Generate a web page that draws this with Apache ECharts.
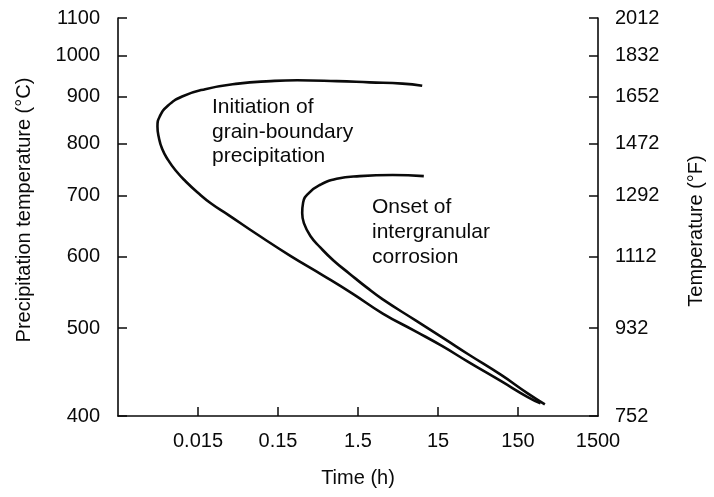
<!DOCTYPE html>
<html>
<head>
<meta charset="utf-8">
<script src="https://cdn.jsdelivr.net/npm/echarts@6/dist/echarts.min.js"></script>
<style>
html,body{margin:0;padding:0;background:#fff;}
#chart{width:714px;height:497px;}
</style>
</head>
<body>
<div id="chart"></div>
<script>
// ---- data ----
const timeTicks = [0.015, 0.15, 1.5, 15, 150, 1500];
const timeTickLabels = ['0.015', '0.15', '1.5', '15', '150', '1500'];
const tempTicksC = [400, 500, 600, 700, 800, 900, 1000, 1100];
const tempTicksF = ['752', '932', '1112', '1292', '1472', '1652', '1832', '2012'];

const initiationTime = [9.52, 5.40, 2.09, 0.812, 0.261, 0.122, 0.0475, 0.01845, 0.0095, 0.0062, 0.0050, 0.00467, 0.00483, 0.00534, 0.00633, 0.00794, 0.01055, 0.01483, 0.0221, 0.0358, 0.0838, 0.214, 0.546, 1.280, 3.06, 7.87, 16.8, 35.8, 92.3, 196, 287];
const initiationTemp = [926, 931, 934, 937, 939, 937, 931, 918, 901, 879, 857, 835, 814, 789, 767, 746, 726, 706, 686, 667, 634, 601, 572, 546, 519, 496, 478, 459, 437, 420, 413];

const onsetTime = [9.97, 4.06, 1.575, 0.812, 0.506, 0.364, 0.309, 0.301, 0.316, 0.381, 0.506, 0.740, 1.185, 1.905, 3.06, 7.87, 18.5, 35.8, 92.3, 196, 325];
const onsetTemp = [736, 738, 736, 731, 720, 705, 688, 670, 653, 632, 614, 594, 574, 555, 538, 510, 486, 468, 444, 424, 412];

const initiationLabel = 'Initiation of\ngrain-boundary\nprecipitation';
const onsetLabel = 'Onset of\nintergranular\ncorrosion';

// ---- chart ----
const FONT = '"Liberation Sans", Arial, Helvetica, sans-serif';
const INK = '#0a0a0a';
function idxOf(arr, v) {
  let best = 0, bd = Infinity;
  arr.forEach((a, i) => { const d = Math.abs(Math.log10(a) - Math.log10(v)); if (d < bd) { bd = d; best = i; } });
  return bd < 1e-4 ? best : -1;
}
const zip = (a, b) => a.map((v, i) => [v, b[i]]);

const chart = echarts.init(document.getElementById('chart'), null, {renderer: 'canvas'});
const axisLine = () => ({show: true, lineStyle: {color: INK, width: 1.6}});
const axisTick = (vals) => ({show: true, inside: true, length: 9, customValues: vals, lineStyle: {color: INK, width: 1.5}});
chart.setOption({
  animation: false,
  backgroundColor: '#fff',
  textStyle: {fontFamily: FONT},
  grid: {left: 118, right: 109, top: 18, bottom: 81, containLabel: false},
  xAxis: {
    type: 'log', logBase: 10, min: 0.0015, max: 1500,
    name: 'Time (h)', nameLocation: 'middle', nameGap: 52,
    nameTextStyle: {fontFamily: FONT, fontSize: 20, color: INK},
    axisLine: axisLine(),
    axisTick: axisTick(timeTicks.slice(0, 5)),
    splitLine: {show: false},
    minorTick: {show: false},
    axisLabel: {
      customValues: timeTicks, margin: 15, fontFamily: FONT, fontSize: 20, color: INK,
      formatter: (v) => { const i = idxOf(timeTicks, v); return i >= 0 ? timeTickLabels[i] : ''; }
    }
  },
  yAxis: [{
    type: 'log', logBase: 10, min: 400, max: 1100, position: 'left',
    name: 'Precipitation temperature (°C)', nameLocation: 'middle', nameGap: 84, nameRotate: 90,
    nameTextStyle: {fontFamily: FONT, fontSize: 20, color: INK, padding: [0, 0, 0, 14]},
    axisLine: axisLine(),
    axisTick: axisTick(tempTicksC),
    splitLine: {show: false},
    axisLabel: {
      customValues: tempTicksC, margin: 18, fontFamily: FONT, fontSize: 20, color: INK,
      formatter: (v) => { const i = idxOf(tempTicksC, v); return i >= 0 ? String(tempTicksC[i]) : ''; }
    }
  }, {
    type: 'log', logBase: 10, min: 400, max: 1100, position: 'right',
    name: 'Temperature (°F)', nameLocation: 'middle', nameGap: 88, nameRotate: 90,
    nameTextStyle: {fontFamily: FONT, fontSize: 20, color: INK, padding: [0, 28, 0, 0]},
    axisLine: axisLine(),
    axisTick: axisTick(tempTicksC),
    splitLine: {show: false},
    axisLabel: {
      customValues: tempTicksC, margin: 17, fontFamily: FONT, fontSize: 20, color: INK,
      formatter: (v) => { const i = idxOf(tempTicksC, v); return i >= 0 ? tempTicksF[i] : ''; }
    }
  }],
  graphic: [
    {type: 'text', left: 212, top: 95, style: {text: initiationLabel, font: '21px ' + FONT, fill: INK, lineHeight: 24.5}},
    {type: 'text', left: 372, top: 195, style: {text: onsetLabel, font: '21px ' + FONT, fill: INK, lineHeight: 25}}
  ],
  series: [{
    name: 'Initiation of grain-boundary precipitation', type: 'line', yAxisIndex: 0,
    data: zip(initiationTime, initiationTemp), smooth: 0.5, showSymbol: false, symbol: 'none',
    lineStyle: {color: INK, width: 2.6}
  }, {
    name: 'Onset of intergranular corrosion', type: 'line', yAxisIndex: 0,
    data: zip(onsetTime, onsetTemp), smooth: 0.5, showSymbol: false, symbol: 'none',
    lineStyle: {color: INK, width: 2.6}
  }]
});
</script>
</body>
</html>
